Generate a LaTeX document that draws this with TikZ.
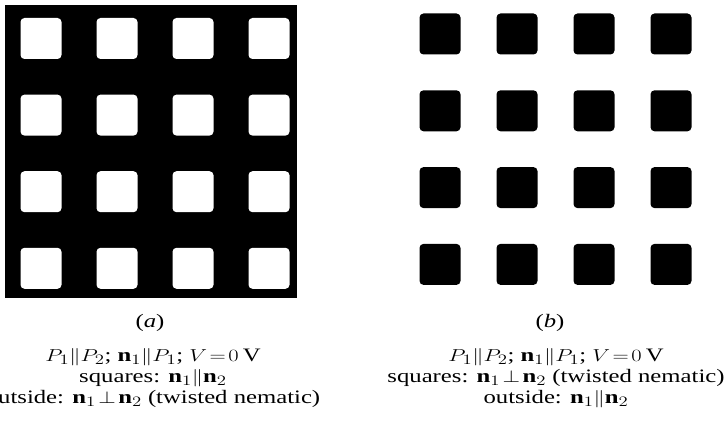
\documentclass[tikz,border=0pt]{standalone}
\usepackage{fontspec}
\setmainfont{Liberation Serif}
\usetikzlibrary{positioning}

\begin{document}
\begin{tikzpicture}[
    x=1pt, y=-1pt,
    whitesq/.style={fill=white, rounded corners=4pt, minimum width=41pt, minimum height=41pt, inner sep=0pt},
    blacksq/.style={fill=black, rounded corners=4pt, minimum width=41pt, minimum height=41pt, inner sep=0pt},
    tag/.style={font=\fontsize{19}{21}\selectfont, inner sep=0pt},
    caption/.style={font=\fontsize{19}{21}\selectfont, align=center, inner sep=0pt}
]
    \useasboundingbox (0,0) rectangle (726,430);

    % Pannello (a): fondo nero con quadrati bianchi
    \fill[black] (5,5) rectangle (297,298);
    \foreach \i in {0,...,3} {
        \foreach \j in {0,...,3} {
            \node[whitesq] (w\i\j) at (41+76*\i, 38.5+76.6*\j) {};
        }
    }

    % Pannello (b): quadrati neri su fondo bianco
    \foreach \i in {0,...,3} {
        \foreach \j in {0,...,3} {
            \node[blacksq] (b\i\j) at (440+77*\i, 34+76.8*\j) {};
        }
    }

    % Didascalie
    \node[tag] (taga) at (150,323) {\scalebox{1.3}[1]{(\textit{a})}};
    \node[tag] (tagb) at (550,323) {\scalebox{1.3}[1]{(\textit{b})}};

    \node[caption] (capa) at (153,378) {\scalebox{1.3}[1]{\begin{tabular}{@{}c@{}}
        $P_1\|P_2$; $\mathbf{n}_1\|P_1$; $V\!=\!0$\,V\\
        squares: $\mathbf{n}_1\|\mathbf{n}_2$\\
        outside: $\mathbf{n}_1\!\perp\!\mathbf{n}_2$ (twisted nematic)
    \end{tabular}}};
    \node[caption] (capb) at (556,378) {\scalebox{1.3}[1]{\begin{tabular}{@{}c@{}}
        $P_1\|P_2$; $\mathbf{n}_1\|P_1$; $V\!=\!0$\,V\\
        squares: $\mathbf{n}_1\!\perp\!\mathbf{n}_2$ (twisted nematic)\\
        outside: $\mathbf{n}_1\|\mathbf{n}_2$
    \end{tabular}}};
\end{tikzpicture}
\end{document}
